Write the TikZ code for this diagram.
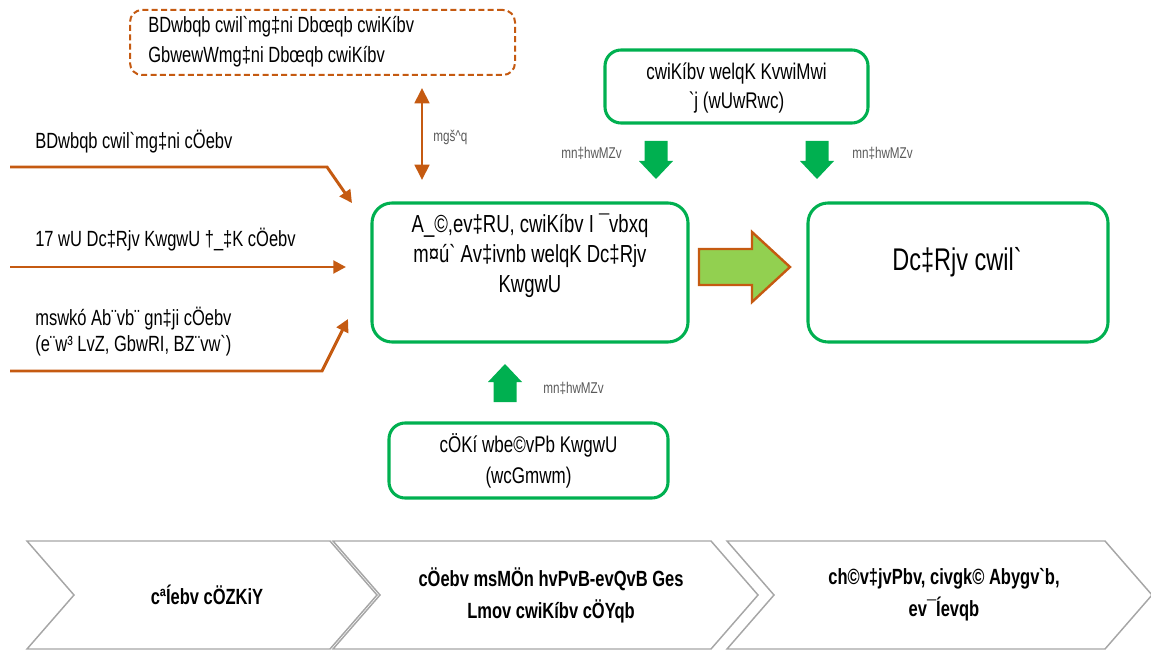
\documentclass[tikz,border=0pt]{standalone}
\usepackage{fontspec}
\setmainfont{Liberation Sans}[FakeStretch=0.75,Ligatures=TeXOff]
\usepackage{tikz}
\usetikzlibrary{arrows.meta}
\definecolor{boxgreen}{HTML}{00B050}
\definecolor{linkorange}{HTML}{C55A11}
\definecolor{arrowlime}{HTML}{92D050}
\definecolor{stagegray}{HTML}{A6A6A6}
\definecolor{notegray}{HTML}{595959}
\def\bodysize{\fontsize{16.5}{21}\selectfont}

\begin{document}
\begin{tikzpicture}[x=0.75pt,y=-0.75pt,inner sep=0pt]
    \tikzstyle{green box}=[draw=boxgreen,line width=2.3pt,rounded corners=12pt]
    \tikzstyle{feed}=[draw=linkorange,line width=2.2pt,-{Triangle[width=9.5pt,length=9.5pt]}]
    \tikzstyle{body}=[font=\bodysize,align=center]
    \tikzstyle{note}=[font=\fontsize{11.7}{13}\selectfont,text=notegray]
    \tikzstyle{help arrow}=[fill=boxgreen]
    \tikzstyle{stage}=[draw=stagegray,line width=1.1pt,line join=miter]
    \tikzstyle{stage text}=[font=\bfseries\fontsize{16.5}{24}\selectfont,align=center]

    \useasboundingbox (0,0) rectangle (1151,652);

    % The boxes
    \node[draw=linkorange,line width=1.5pt,dash pattern=on 4.5pt off 2.5pt,rounded corners=9pt,
          minimum width=288.75pt,minimum height=48.75pt] (plans) at (322.5,42.5) {};
    \node[font=\fontsize{16.5}{22.5}\selectfont,align=left,anchor=west] (plans text) at (148,42)
        {BDwbqb cwil`mg‡ni Dbœqb cwiKíbv\\GbwewWmg‡ni Dbœqb cwiKíbv};

    \node[green box,minimum width=197.25pt,minimum height=54.75pt] (team) at (736.5,86.5) {};
    \node[body,font=\fontsize{17}{21.5}\selectfont] (team text) at (736.5,88) {cwiKíbv welqK KvwiMwi\\`j (wUwRwc)};

    \node[green box,rounded corners=15pt,minimum width=237pt,minimum height=104.25pt] (committee) at (530,272.5) {};
    \node[body,font=\fontsize{18.5}{22.5}\selectfont] (committee text) at (530,256)
        {A\_©,ev‡RU, cwiKíbv I ¯vbxq\\m¤ú` Av‡ivnb welqK Dc‡Rjv\\KwgwU};

    \node[green box,rounded corners=15pt,minimum width=225pt,minimum height=104.25pt] (council) at (958,272.5) {};
    \node[body,font=\fontsize{23.5}{26}\selectfont] (council text) at (957,262) {Dc‡Rjv cwil`};

    \node[green box,minimum width=209.25pt,minimum height=56.25pt] (pec) at (528.5,460.5) {};
    \node[body,font=\fontsize{17}{23}\selectfont] (pec text) at (528.5,461) {cÖKí wbe©vPb KwgwU\\(wcGmwm)};

    % Proposals coming in from the left
    \node[font=\bodysize,anchor=west] (prop1) at (35,142) {BDwbqb cwil`mg‡ni cÖebv};
    \node[font=\bodysize,anchor=west] (prop2) at (35,240) {17 wU Dc‡Rjv KwgwU †\_‡K cÖebv};
    \node[font=\fontsize{16.5}{20}\selectfont,align=left,anchor=west] (prop3) at (35,331.5)
        {mswkó Ab¨vb¨ gn‡ji cÖebv\\(e¨w³ LvZ, GbwRI, BZ¨vw`)};

    \coordinate (in1) at (10,167);   \coordinate (bend1) at (327,167);  \coordinate (end1) at (352,203);
    \coordinate (in2) at (10,267);   \coordinate (end2) at (346,267);
    \coordinate (in3) at (10,371);   \coordinate (bend3) at (322,371);  \coordinate (end3) at (348,319);
    \draw[feed] (in1) -- (bend1) -- (end1);
    \draw[feed] (in2) -- (end2);
    \draw[feed] (in3) -- (bend3) -- (end3);

    % Coordination between plans and committee
    \coordinate (sync top) at (422,88);
    \coordinate (sync bot) at (422,180);
    \draw[linkorange,line width=2pt,{Triangle[width=11pt,length=11.5pt]}-{Triangle[width=11pt,length=11.5pt]}]
        (sync top) -- (sync bot);
    \node[note,anchor=west] (sync label) at (433,137) {mgš\textasciicircum q};

    % Support arrows
    \foreach \x in {656,817}
        \fill[help arrow] ({\x-11.5},141) -- ({\x+11.5},141) -- ({\x+11.5},161) -- ({\x+17},161)
            -- (\x,179) -- ({\x-17},161) -- ({\x-11.5},161) -- cycle;
    \fill[help arrow] (493.5,402) -- (516.5,402) -- (516.5,382) -- (522,382)
        -- (505,364) -- (488,382) -- (493.5,382) -- cycle;
    \node[note,anchor=east] (help1) at (622,153) {mn‡hwMZv};
    \node[note,anchor=west] (help2) at (852,153) {mn‡hwMZv};
    \node[note,anchor=west] (help3) at (543,388) {mn‡hwMZv};

    % Committee passes on to council
    \filldraw[fill=arrowlime,draw=linkorange,line width=1.8pt,line join=miter]
        (699,249) -- (752,249) -- (752,232) -- (790,267) -- (752,302) -- (752,285) -- (699,285) -- cycle;

    % Stages along the bottom
    \foreach \l/\r in {27/330,333/711,727/1105}
        \draw[stage] (\l,541) -- (\r,541) -- ({\r+47},595) -- (\r,649) -- (\l,649) -- ({\l+47},595) -- cycle;
    \node[stage text] (stage1) at (207,595) {cªÍebv cÖZKiY};
    \node[stage text] (stage2) at (551,595) {cÖebv msMÖn hvPvB-evQvB Ges\\Lmov cwiKíbv cÖYqb};
    \node[stage text] (stage3) at (944,595) {ch©v‡jvPbv, civgk© Abygv`b,\\ev¯Íevqb};
\end{tikzpicture}
\end{document}
